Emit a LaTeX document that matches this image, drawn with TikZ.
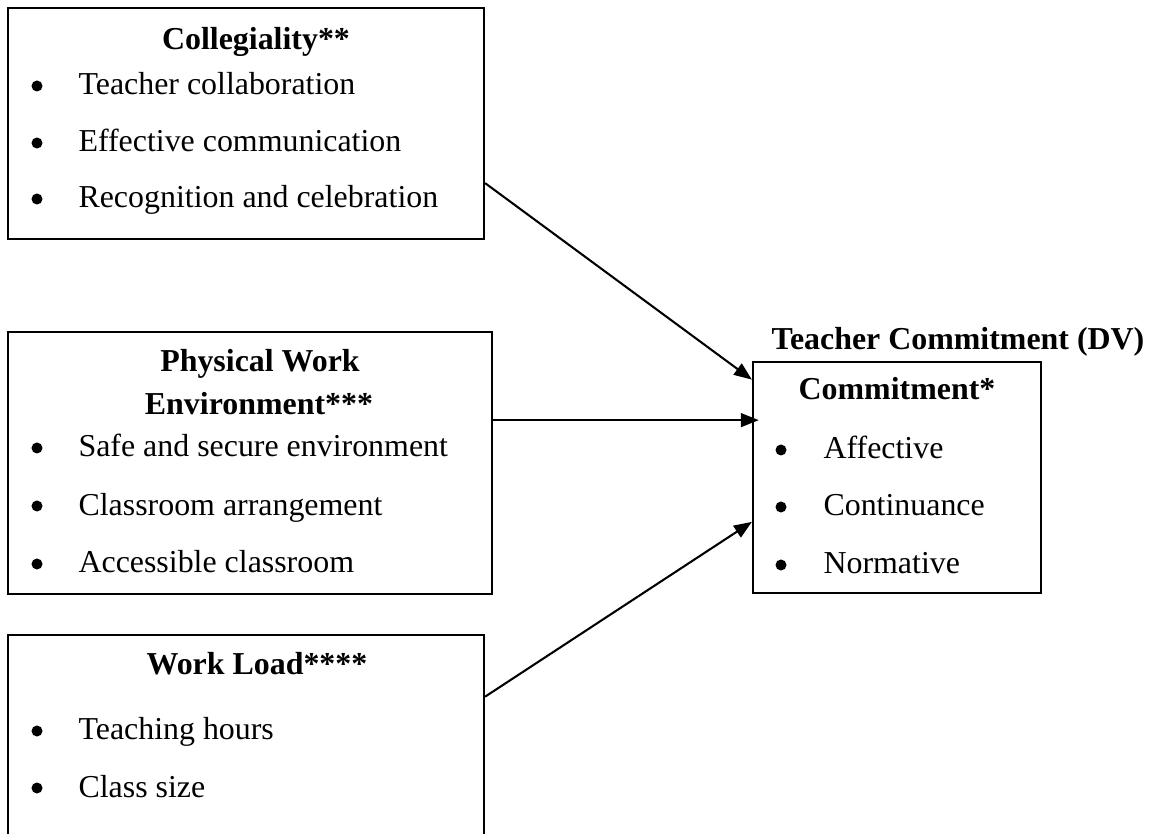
\documentclass[tikz,border=0pt]{standalone}
\usepackage{fontspec}
\setmainfont{Liberation Serif}
\usetikzlibrary{arrows.meta,fit}
\tikzset{
  varbox/.style={draw,line width=0.8pt,inner sep=0pt}, % framed variable
  head/.style={anchor=base,inner sep=0pt,font=\fontsize{11.6}{14}\selectfont\bfseries},
  dot/.style={circle,fill,inner sep=0pt,minimum size=4pt},
  item/.style={anchor=base west,inner sep=0pt},
  link/.style={-{Triangle[length=6.5pt,width=5pt]},line width=0.75pt},
}

\begin{document}
\begin{tikzpicture}[x=0.3636pt,y=-0.3636pt,font=\fontsize{11.6}{14}\selectfont]
		\clip (0,0) rectangle (1153,834);

		% frames
		\node[varbox,fit={(8,8)(484,239)}] (coll) {};
		\node[varbox,fit={(8,332)(492,594)}] (phys) {};
		\node[varbox,fit={(8,635)(484,860)}] (load) {};
		\node[varbox,fit={(753,362)(1041,593)}] (comm) {};

		% headings
		\node[head] (collhead) at (256,50) {Collegiality**};
		\node[head] (physhead) at (260,372) {Physical Work};
		\node[head] (physhead2) at (259,415) {Environment***};
		\node[head] (loadhead) at (257,675) {Work Load****};
		\node[head] (commhead) at (897,400) {Commitment*};
		\node[head] (dv) at (958,349) {Teacher Commitment (DV)};

		% bullet lists
		\foreach \y/\t [count=\i] in {95/Teacher collaboration,152/Effective communication,208/Recognition and celebration}{
			\node[dot] (colldot\i) at (37,\y-9) {};
			\node[item] (collitem\i) at (78,\y) {\t};
		}
		\foreach \y/\t [count=\i] in {457/Safe and secure environment,515/Classroom arrangement,573/Accessible classroom}{
			\node[dot] (physdot\i) at (37,\y-9) {};
			\node[item] (physitem\i) at (78,\y) {\t};
		}
		\foreach \y/\t [count=\i] in {740/Teaching hours,797/Class size}{
			\node[dot] (loaddot\i) at (37,\y-9) {};
			\node[item] (loaditem\i) at (78,\y) {\t};
		}
		\foreach \y/\t [count=\i] in {459/Affective,516/Continuance,574/Normative}{
			\node[dot] (commdot\i) at (781,\y-9) {};
			\node[item] (commitem\i) at (823,\y) {\t};
		}

		% links into the dependent variable
		\draw[link] (coll.-14.7) -- (comm.146.9);
		\draw[link,shorten >=-2.5pt] (phys.10.1) -- (phys.10.1 -| comm.west);
		\draw[link] (load.12) -- (comm.-163.7);

\end{tikzpicture}
\end{document}
